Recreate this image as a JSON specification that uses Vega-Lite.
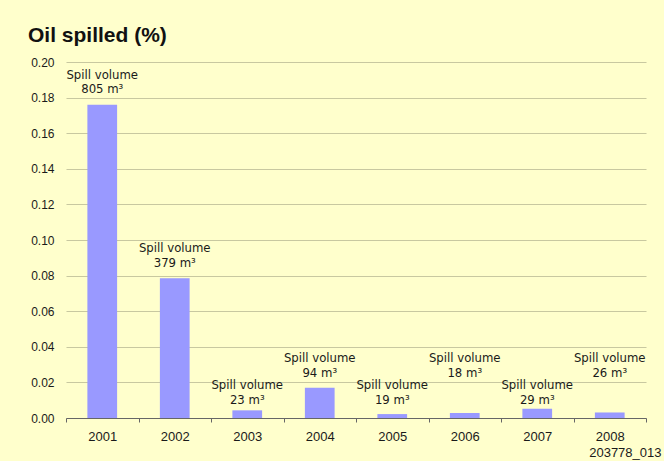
{
  "$schema": "https://vega.github.io/schema/vega-lite/v6.json",
  "width": 580,
  "height": 356,
  "autosize": {"type": "none"},
  "padding": {"left": 66, "top": 62, "right": 18, "bottom": 43},
  "background": "#FFFFCC",
  "title": {
    "text": "Oil spilled (%)",
    "anchor": "start",
    "frame": "group",
    "dx": -38,
    "offset": 10,
    "font": "Liberation Sans",
    "fontSize": 21,
    "fontWeight": "bold",
    "color": "#111111"
  },
  "config": {
    "view": {"stroke": null},
    "text": {"font": "Liberation Sans Narrow, DejaVu Sans Condensed, Liberation Sans", "fontSize": 13, "lineHeight": 14.5, "color": "#1a1a1a", "baseline": "bottom", "align": "center"},
    "axisY": {
      "tickCount": 10,
      "format": ".2f",
      "labelOverlap": false,
      "grid": true,
      "gridColor": "#C8C8A0",
      "gridWidth": 1.2,
      "domain": false,
      "ticks": false,
      "labelPadding": 12,
      "labelFont": "Liberation Sans",
      "labelFontSize": 12,
      "labelColor": "#1a1a1a"
    }
  },
  "data": {
    "values": [
      {"year": "2001", "pct": 0.176, "vol": 805},
      {"year": "2002", "pct": 0.0785, "vol": 379},
      {"year": "2003", "pct": 0.0043, "vol": 23},
      {"year": "2004", "pct": 0.017, "vol": 94},
      {"year": "2005", "pct": 0.0022, "vol": 19},
      {"year": "2006", "pct": 0.0028, "vol": 18},
      {"year": "2007", "pct": 0.0052, "vol": 29},
      {"year": "2008", "pct": 0.0031, "vol": 26}
    ]
  },
  "transform": [
    {"calculate": "['Spill volume', datum.vol + ' m³']", "as": "label"}
  ],
  "encoding": {
    "x": {
      "field": "year",
      "type": "ordinal",
      "scale": {"paddingInner": 0, "paddingOuter": 0},
      "axis": {
        "labelAngle": 0,
        "labelFont": "Liberation Sans",
        "labelFontSize": 13,
        "labelColor": "#1a1a1a",
        "labelPadding": 8,
        "tickBand": "extent",
        "tickSize": 4,
        "tickColor": "#666666",
        "domainColor": "#666666",
        "title": "203778_013",
        "titleFont": "Liberation Sans",
        "titleFontSize": 13,
        "titleFontWeight": "normal",
        "titleColor": "#1a1a1a",
        "titleAnchor": "end",
        "titleAlign": "right",
        "titleBaseline": "alphabetic",
        "titleX": 595,
        "titleY": 38
      }
    }
  },
  "layer": [
    {
      "mark": {"type": "bar", "color": "#9999FF", "width": {"band": 0.41}},
      "encoding": {
        "y": {
          "field": "pct",
          "type": "quantitative",
          "scale": {"domain": [0, 0.2], "nice": false},
          "axis": {"title": null}
        }
      }
    },
    {
      "transform": [{"filter": {"field": "year", "oneOf": ["2001", "2002"]}}],
      "mark": {"type": "text", "dy": -23},
      "encoding": {
        "y": {"field": "pct", "type": "quantitative"},
        "text": {"field": "label"}
      }
    },
    {
      "transform": [{"filter": {"field": "year", "oneOf": ["2003", "2005", "2007"]}}],
      "mark": {"type": "text"},
      "encoding": {
        "y": {"datum": 0.0145},
        "text": {"field": "label"}
      }
    },
    {
      "transform": [{"filter": {"field": "year", "oneOf": ["2004", "2006", "2008"]}}],
      "mark": {"type": "text"},
      "encoding": {
        "y": {"datum": 0.0297},
        "text": {"field": "label"}
      }
    }
  ]
}
